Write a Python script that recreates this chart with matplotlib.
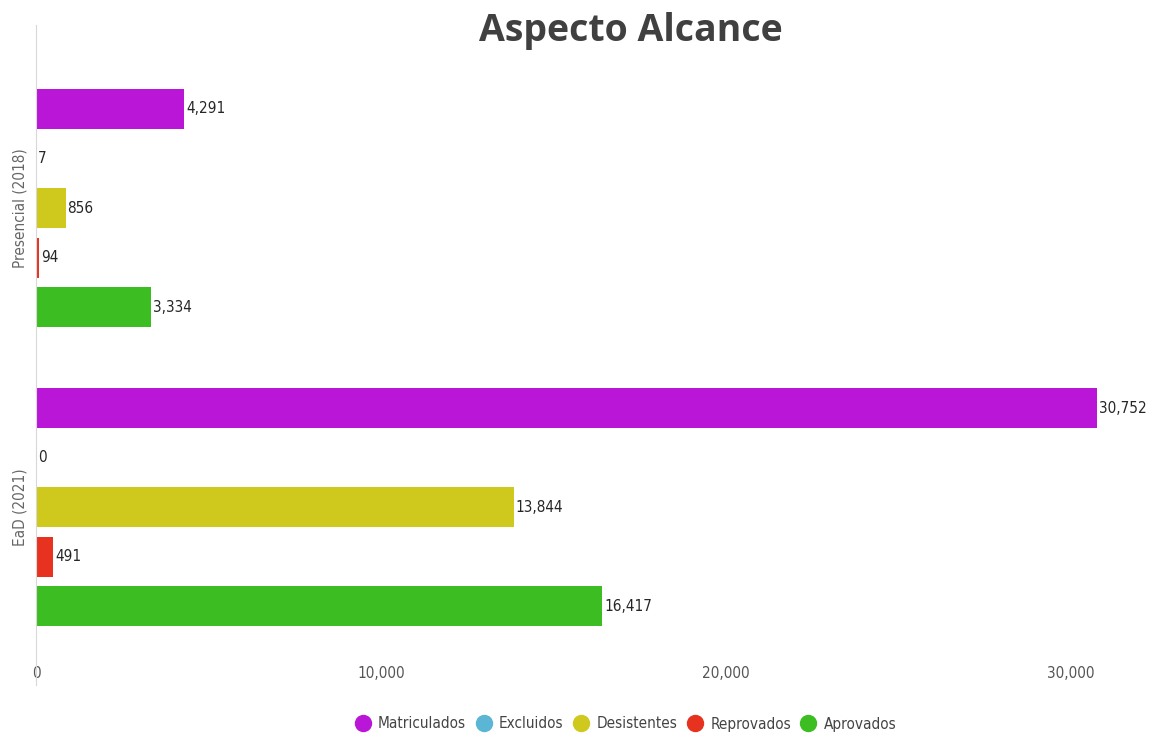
import matplotlib
import numpy as np

matplotlib.use('Agg')

import matplotlib.pyplot as plt
from matplotlib.lines import Line2D

plt.rcParams['font.family'] = ['Liberation Sans Narrow', 'DejaVu Sans']
plt.rcParams['font.stretch'] = 'condensed'

TITLE = "Aspecto Alcance"
categories = ["Presencial (2018)", "EaD (2021)"]
series = ["Matriculados", "Excluidos", "Desistentes", "Reprovados", "Aprovados"]
colors = ["#BA16D8", "#5BB5D5", "#CFC91E", "#E6321E", "#3CBE23"]

matriculados = [4291, 30752]
excluidos = [7, 0]
desistentes = [856, 13844]
reprovados = [94, 491]
aprovados = [3334, 16417]
values = [matriculados, excluidos, desistentes, reprovados, aprovados]

x_ticks = [0, 10000, 20000, 30000]

fig = plt.figure(figsize=(11.5, 7.33), dpi=100)
ax = fig.add_axes([36 / 1150, 1 - 685 / 733, (1140 - 36) / 1150, 660 / 733])

step = 0.1656
height = 0.134
ypos = np.arange(len(categories))
for i, (name, vals, col) in enumerate(zip(series, values, colors)):
    bars = ax.barh(ypos + (i - 2) * step, vals, height=height, color=col,
                   label=name, zorder=2)
    ax.bar_label(bars, fmt='{:,.0f}', padding=1.5, fontsize=11, color='#262626')

ax.set_xlim(0, 32000)
ax.set_ylim(1.595, -0.612)

ax.set_xticks(x_ticks)
ax.set_xticklabels([f"{t:,}" for t in x_ticks])
ax.tick_params(axis='x', length=0, pad=-14, labelsize=11, labelcolor='#555555')

ax.set_yticks(ypos)
ax.set_yticklabels(categories, rotation=90, va='center')
ax.tick_params(axis='y', length=0, pad=6, labelsize=11, labelcolor='#666666')

for s in ['top', 'right', 'bottom']:
    ax.spines[s].set_visible(False)
ax.spines['left'].set_color('#d8d8d8')

fig.text(631 / 1150, 1 - 31 / 733, TITLE, ha='center', va='center',
         fontsize=27, fontweight='bold', color='#404040',
         family=['Open Sans', 'DejaVu Sans'])

handles = [Line2D([], [], marker='o', linestyle='none', markersize=11.5,
                  markerfacecolor=c, markeredgecolor=c) for c in colors]
leg = fig.legend(handles, series, loc='center', ncol=5, frameon=False,
                 bbox_to_anchor=(625 / 1150, 1 - 724 / 733),
                 fontsize=11, handletextpad=0.4, columnspacing=0.55,
                 handlelength=1.2)
for t in leg.get_texts():
    t.set_color('#444444')

fig.savefig('out.png', dpi=100)
